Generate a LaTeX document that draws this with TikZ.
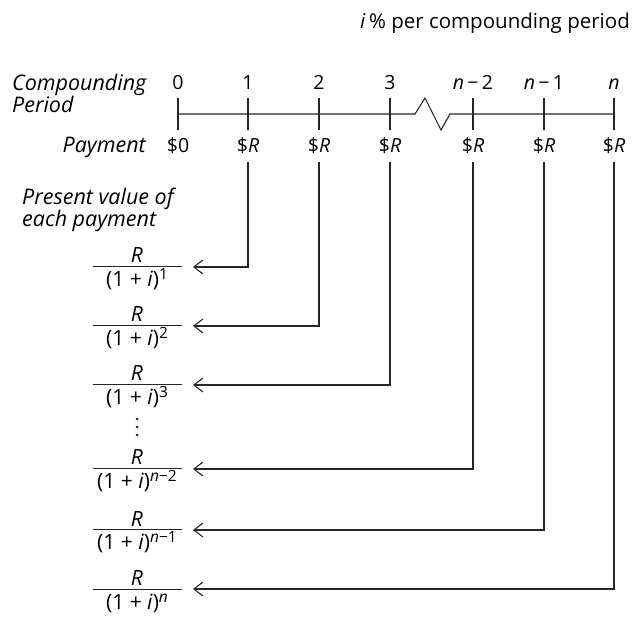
\documentclass[tikz,border=0pt]{standalone}
\usepackage{fontspec}
\setmainfont{Open Sans}
\usetikzlibrary{arrows.meta,calc}
\newcommand\expo[1]{\raisebox{7pt}{\fontsize{15.5}{16}\selectfont #1}}
\begin{document}
\begin{tikzpicture}[x=1pt,y=-1pt,
  txt/.style={font=\fontsize{19.5}{22}\selectfont, inner sep=0pt},
  hdr/.style={font=\fontsize{20.5}{22}\selectfont, inner sep=0pt},
  itx/.style={font=\fontsize{21.5}{22}\selectfont\itshape, inner sep=0pt},
  frc/.style={font=\fontsize{21}{22}\selectfont, inner sep=0pt},
  axis/.style={line width=1.1pt, black!85},
  conn/.style={line width=1.1pt, black!85, -{Straight Barb[length=9pt,width=14pt,line width=1.1pt]}},
  bar/.style={line width=1pt, black!85}]
\useasboundingbox (0,0) rectangle (635,617);
% heading
\node[hdr, anchor=base east] (head) at (630,29) {\textit{i}\,\% per compounding period};
% left labels
\node[itx, anchor=base west] (cp1) at (12,91) {Compounding};
\node[itx, anchor=base west] (cp2) at (12,113) {Period};
\node[itx, anchor=base east] (pay) at (146,153) {Payment};
\node[itx, anchor=base west] (pv1) at (22,205) {Present value of};
\node[itx, anchor=base west] (pv2) at (22,227) {each payment};
% period labels
\node[txt, anchor=base] (l0) at (178,90) {0};
\node[txt, anchor=base] (l1) at (248,90) {1};
\node[txt, anchor=base] (l2) at (319,90) {2};
\node[txt, anchor=base] (l3) at (390,90) {3};
\node[txt, anchor=base] (l4) at (473,90) {\textit{n}\,−\,2};
\node[txt, anchor=base] (l5) at (544,90) {\textit{n}\,−\,1};
\node[txt, anchor=base] (l6) at (614,90) {\textit{n}};
% axis
\draw[axis] (178,114) -- (415,114) -- (425,98) -- (441,130) -- (450,114) -- (614,114);
\foreach \x in {178,248,319,390,473,544,614}
  \draw[axis] (\x,98) -- (\x,130);
% payments
\node[txt, anchor=base] (p0) at (178,153) {\$0};
\node[txt, anchor=base] (p1) at (248,153) {\$\textit{R}};
\node[txt, anchor=base] (p2) at (319,153) {\$\textit{R}};
\node[txt, anchor=base] (p3) at (390,153) {\$\textit{R}};
\node[txt, anchor=base] (p4) at (473,153) {\$\textit{R}};
\node[txt, anchor=base] (p5) at (544,153) {\$\textit{R}};
\node[txt, anchor=base] (p6) at (614,153) {\$\textit{R}};
% fractions
\foreach \k/\y/\e in {1/267/1, 2/326/2, 3/385/3, 4/469/{\textit{n}−2}, 5/530/{\textit{n}−1}, 6/589/{\textit{n}}} {
  \node[frc, anchor=base] (n\k) at (137,\y-4) {\textit{R}};
  \node[frc, anchor=base] (d\k) at (137,\y+20) {(1 + \textit{i})\expo{\e}};
  \draw[bar] (93,\y) -- (182,\y);
  \coordinate (a\k) at (193,\y);
}
% vertical dots
\foreach \y in {419,427,435} \fill[black!85] (137,\y) circle (1.5pt);
% connectors
\foreach \k in {1,...,6}
  \draw[conn] ($(p\k.base)+(0,9)$) |- (a\k);
\end{tikzpicture}
\end{document}
